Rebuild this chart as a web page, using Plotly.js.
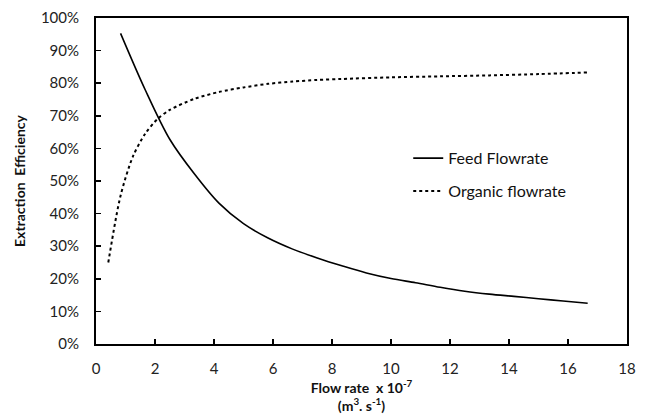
<!DOCTYPE html>
<html>
<head>
<meta charset="utf-8">
<script src="https://cdn.plot.ly/plotly-3.0.1.min.js"></script>
<style>html,body{margin:0;padding:0;background:#fff;}#chart{width:648px;height:416px;}</style>
</head>
<body>
<div id="chart"></div>
<script>
const feedX = [0.833, 1.667, 2.5, 3.333, 4.167, 5.0, 5.833, 6.667, 7.5, 8.333, 9.167, 10.0, 10.833, 11.667, 12.5, 13.333, 14.167, 15.0, 15.833, 16.667];
const feedY = [0.953, 0.78, 0.628, 0.522, 0.432, 0.369, 0.325, 0.291, 0.264, 0.240, 0.218, 0.201, 0.188, 0.174, 0.162, 0.153, 0.146, 0.139, 0.132, 0.125];
const orgX = [0.417, 0.833, 1.25, 1.667, 2.083, 2.5, 3.333, 4.167, 5.0, 5.833, 6.667, 7.5, 8.333, 10.0, 11.667, 13.333, 15.0, 16.667];
const orgY = [0.25, 0.455, 0.575, 0.645, 0.69, 0.718, 0.752, 0.773, 0.787, 0.798, 0.805, 0.81, 0.813, 0.818, 0.821, 0.824, 0.828, 0.833];
const seriesNames = ["Feed Flowrate", "Organic flowrate"];
const xTicks = [0, 2, 4, 6, 8, 10, 12, 14, 16, 18];
const yTicks = [0, 0.1, 0.2, 0.3, 0.4, 0.5, 0.6, 0.7, 0.8, 0.9, 1.0];

const font = "Lato, 'Noto Sans', sans-serif";
const traces = [
  {x: feedX, y: feedY, name: seriesNames[0], type: 'scatter', mode: 'lines',
   line: {color: '#000', width: 1.6, shape: 'spline', smoothing: 0.9}, legendgroup: 'a'},
  {x: orgX, y: orgY, name: seriesNames[1], type: 'scatter', mode: 'lines',
   line: {color: '#000', width: 2, dash: 'dot', shape: 'spline', smoothing: 0.8}, legendgroup: 'b'}
];
const layout = {
  width: 648, height: 416,
  margin: {l: 96, r: 21, t: 18, b: 72},
  paper_bgcolor: '#fff', plot_bgcolor: '#fff',
  font: {family: font, color: '#222', size: 15},
  showlegend: true,
  legend: {x: 0.588, y: 0.622, xanchor: 'left', yanchor: 'top', bgcolor: 'rgba(0,0,0,0)',
           font: {family: font, size: 16, color: '#111'}, traceorder: 'grouped', tracegroupgap: 9, itemwidth: 30},
  xaxis: {range: [0, 18], tickvals: xTicks, ticktext: xTicks.map(String), showgrid: false, zeroline: false,
          showline: true, linecolor: '#000', linewidth: 2, mirror: true,
          ticks: 'inside', ticklen: 5, tickwidth: 1.5, tickcolor: '#000', ticklabelstandoff: 10,
          tickfont: {family: font, size: 15, color: '#222'},
          title: {text: '<b>Flow rate  x 10<sup>-7</sup></b><br><b>(m<sup>3</sup>. s<sup>-1</sup>)</b>', font: {family: font, size: 14, color: '#111'}, standoff: 4}},
  yaxis: {range: [0, 1], tickvals: yTicks, ticktext: yTicks.map(v => Math.round(v*100) + '%'), showgrid: false, zeroline: false,
          showline: true, linecolor: '#000', linewidth: 2, mirror: true,
          ticks: 'inside', ticklen: 5, tickwidth: 1.5, tickcolor: '#000', ticklabelstandoff: 12,
          tickfont: {family: font, size: 15, color: '#222'},
          title: {text: '<b>Extraction  Efficiency</b>', font: {family: font, size: 14, color: '#111'}, standoff: 12}}
};
Plotly.newPlot('chart', traces, layout, {displayModeBar: false, staticPlot: true});
</script>
</body>
</html>
